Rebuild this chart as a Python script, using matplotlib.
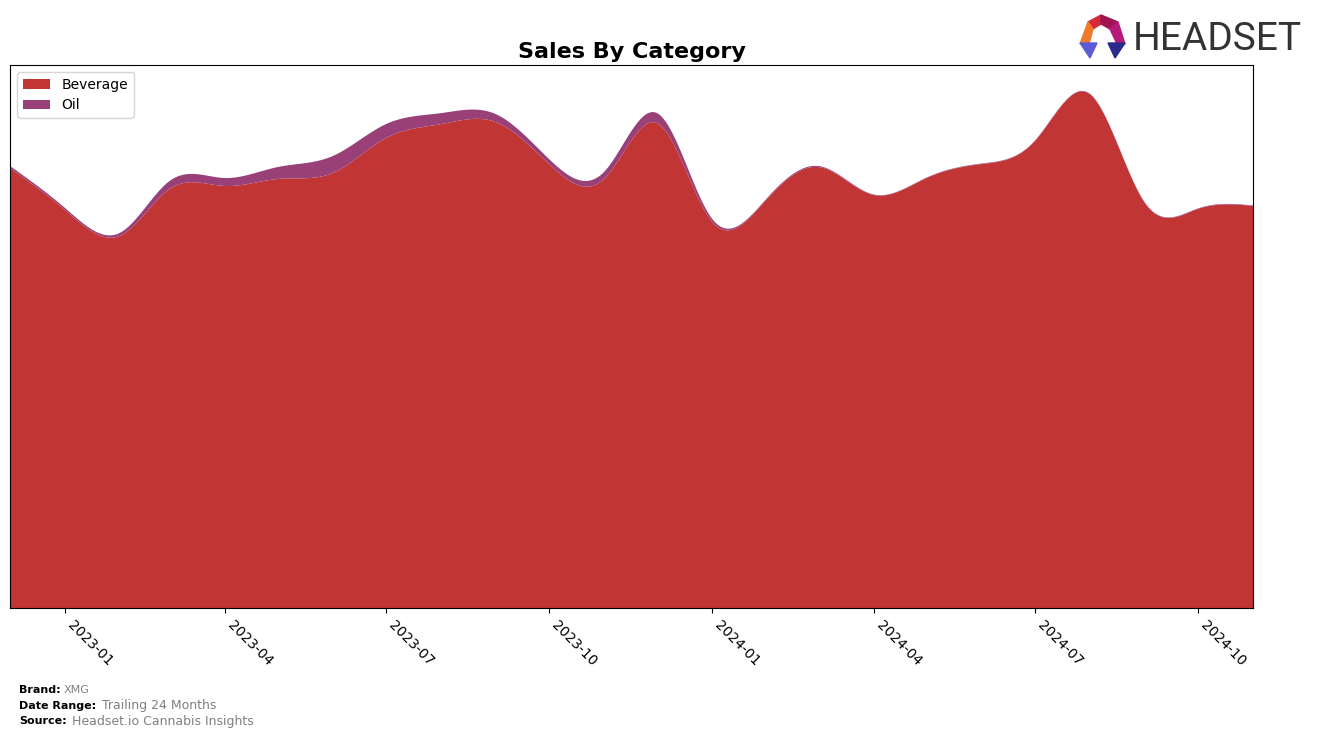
import numpy as np
import matplotlib
matplotlib.use("Agg")
import matplotlib.pyplot as plt
import matplotlib.dates as mdates
from matplotlib.patches import Polygon
import datetime as dt

# monthly sales (arbitrary units)
months = ["2022-12", "2023-01", "2023-02", "2023-03", "2023-04", "2023-05",
          "2023-06", "2023-07", "2023-08", "2023-09", "2023-10", "2023-11",
          "2023-12", "2024-01", "2024-02", "2024-03", "2024-04", "2024-05",
          "2024-06", "2024-07", "2024-08", "2024-09", "2024-10", "2024-11"]
beverage = [441, 399, 373, 420, 423, 430, 436, 471, 485, 487, 445, 430,
            486, 387, 410, 442, 414, 431, 445, 468, 515, 406, 400, 403]
oil = [2, 2, 3, 8, 8, 12, 17, 14, 11, 8, 5, 7,
       10, 3, 1, 1, 0.5, 0.5, 0.5, 0.5, 0.5, 0.5, 0.5, 0.5]
categories = ["Beverage", "Oil"]
colors = ["#C13535", "#994079"]


def smooth(x, y, n=500):
    # natural cubic spline, just for drawing the curve
    x = np.asarray(x, float)
    y = np.asarray(y, float)
    h = np.diff(x)
    nn = len(x)
    A = np.zeros((nn, nn))
    r = np.zeros(nn)
    A[0, 0] = A[-1, -1] = 1
    for i in range(1, nn - 1):
        A[i, i - 1] = h[i - 1]
        A[i, i] = 2 * (h[i - 1] + h[i])
        A[i, i + 1] = h[i]
        r[i] = 3 * ((y[i + 1] - y[i]) / h[i] - (y[i] - y[i - 1]) / h[i - 1])
    c = np.linalg.solve(A, r)
    b = (y[1:] - y[:-1]) / h - h * (2 * c[:-1] + c[1:]) / 3
    d = (c[1:] - c[:-1]) / (3 * h)
    xs = np.linspace(x[0], x[-1], n)
    idx = np.clip(np.searchsorted(x, xs) - 1, 0, nn - 2)
    dx = xs - x[idx]
    ys = y[idx] + b[idx] * dx + c[idx] * dx ** 2 + d[idx] * dx ** 3
    return xs, ys


dates = [dt.datetime.strptime(m, "%Y-%m") for m in months]
xnum = mdates.date2num(dates)
xs, bev_s = smooth(xnum, beverage)
_, oil_s = smooth(xnum, oil)
oil_s = np.clip(oil_s, 0, None)

fig = plt.figure(figsize=(13.17, 7.38), dpi=100)
ax = fig.add_axes([10 / 1317, 130 / 738, 1243 / 1317, 543 / 738])
ax.stackplot(xs, bev_s, oil_s, labels=categories, colors=colors)

ax.set_xlim(xnum[0], xnum[-1])
ax.set_ylim(0, max(bev_s + oil_s) * 1.05)
ax.set_yticks([])
ax.xaxis.set_major_locator(mdates.MonthLocator(bymonth=[1, 4, 7, 10]))
ax.xaxis.set_major_formatter(mdates.DateFormatter("%Y-%m"))
for lbl in ax.get_xticklabels():
    lbl.set_rotation(-45)
    lbl.set_ha("left")
    lbl.set_fontsize(10)

ax.set_title("Sales By Category", fontsize=16, fontweight="bold", pad=5)
ax.legend(loc="upper left", fontsize=10)

# footer
fig.text(19 / 1317, 1 - 690 / 738, "Brand:", fontsize=8, fontweight="bold", va="center")
fig.text(64 / 1317, 1 - 690 / 738, "XMG", fontsize=8, color="gray", va="center")
fig.text(19 / 1317, 1 - 706 / 738, "Date Range:", fontsize=8, fontweight="bold", va="center")
fig.text(102 / 1317, 1 - 706 / 738, "Trailing 24 Months", fontsize=9, color="gray", va="center")
fig.text(19 / 1317, 1 - 721 / 738, "Source:", fontsize=8, fontweight="bold", va="center")
fig.text(72 / 1317, 1 - 721 / 738, "Headset.io Cannabis Insights", fontsize=9, color="gray", va="center")

# logo
def px(pts):
    return [(a / 1317, 1 - b / 738) for a, b in pts]

logo_parts = [
    ([(1088, 22), (1101, 15), (1101, 24), (1093, 29)], "#D42A3C"),
    ([(1101, 15), (1118, 22), (1110, 29), (1101, 24)], "#A0154F"),
    ([(1118, 22), (1125, 44), (1117, 44), (1110, 29)], "#B5197A"),
    ([(1088, 22), (1093, 29), (1089, 44), (1080, 44)], "#F07A2A"),
    ([(1080, 43), (1097, 43), (1090, 58)], "#5B5BD6"),
    ([(1108, 43), (1125, 43), (1115, 58)], "#2A2A8A"),
]
for pts, col in logo_parts:
    fig.patches.append(Polygon(px(pts), closed=True, color=col,
                               transform=fig.transFigure, figure=fig))
fig.text(1133 / 1317, 1 - 39 / 738, "HEADSET", fontsize=28, color="#333333",
         va="center", ha="left", family=["Roboto", "DejaVu Sans"])

fig.savefig("out.png", dpi=100)
